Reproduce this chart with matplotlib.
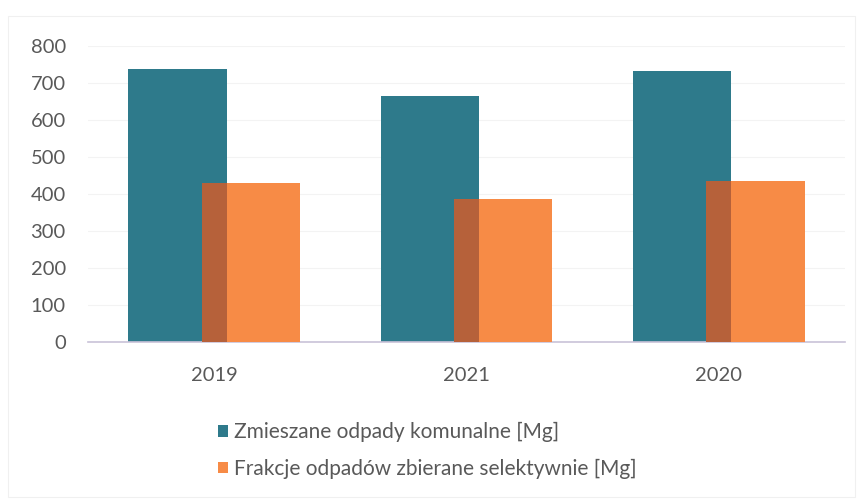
import matplotlib
matplotlib.use("Agg")
import matplotlib.pyplot as plt
from matplotlib.patches import Patch, Rectangle
import numpy as np

categories = ["2019", "2021", "2020"]
mixed = [738, 665, 732]          # Zmieszane odpady komunalne [Mg]
selective = [429, 386, 436]      # Frakcje odpadów zbierane selektywnie [Mg]
labels = ["Zmieszane odpady komunalne [Mg]", "Frakcje odpadów zbierane selektywnie [Mg]"]

TEAL = "#2e7a8b"
ORANGE = "#f78b46"
OVERLAP = "#b6613a"
TXT = "#595959"

plt.rcParams['font.family'] = ['Lato', 'DejaVu Sans']

fig = plt.figure(figsize=(8.59, 5.01), dpi=100)
W, H = 859, 501
ax = fig.add_axes([88 / W, (H - 342) / H, (845 - 88) / W, (342 - 46) / H])

x = np.arange(len(categories))
width = 0.39
off = 0.145
ax.bar(x - off, mixed, width=width, color=TEAL, zorder=2)
ax.bar(x + off, selective, width=width, color=ORANGE, zorder=3)
# overlap region (darker blend)
ov_left = x + off - width / 2
ov_right = x - off + width / 2
ax.bar((ov_left + ov_right) / 2, np.minimum(mixed, selective), width=(ov_right - ov_left)[0],
       color=OVERLAP, zorder=4)

ax.set_xlim(-0.5, len(categories) - 0.5)
ax.set_ylim(0, 800)
ax.set_yticks(range(0, 801, 100))
ax.set_xticks(x)
ax.set_xticklabels(categories)
ax.yaxis.grid(True, color="#f3f3f3", linewidth=0.8, zorder=0)
ax.set_axisbelow(True)
for s in ["top", "right", "left"]:
    ax.spines[s].set_visible(False)
ax.spines["bottom"].set_color("#c9c2d8")
ax.spines["bottom"].set_linewidth(1.2)
ax.tick_params(axis="both", length=0, labelsize=14.5, labelcolor=TXT)
ax.tick_params(axis="y", pad=16)
ax.tick_params(axis="x", pad=18)

handles = [Patch(facecolor=TEAL), Patch(facecolor=ORANGE)]
fig.legend(handles, labels, loc="upper left", bbox_to_anchor=(218 / W, (H - 422) / H),
           frameon=False, fontsize=15, handlelength=0.5, handleheight=0.5,
           handletextpad=0.25, labelspacing=0.8, borderpad=0, borderaxespad=0,
           labelcolor=TXT)

fig.patches.append(Rectangle((8 / W, 4 / H), (W - 12) / W, (H - 20) / H, transform=fig.transFigure,
                             fill=False, edgecolor="#f0f0f0", linewidth=0.8))

fig.savefig("out.png", dpi=100)
